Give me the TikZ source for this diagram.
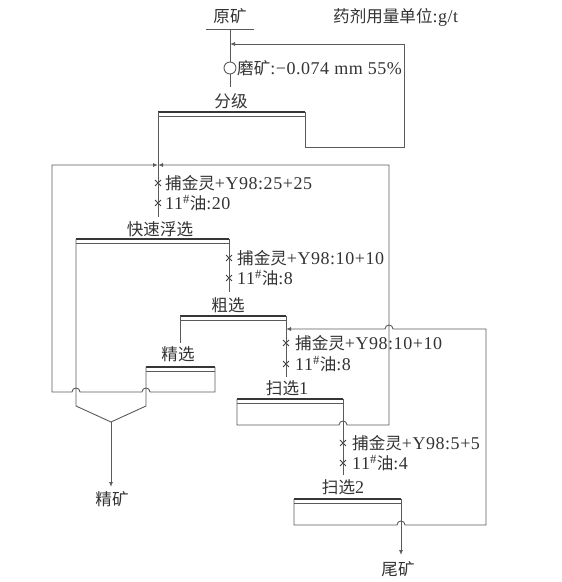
\documentclass[tikz,border=0pt]{standalone}
\usepackage{fontspec}
\setmainfont{Liberation Serif}[LetterSpace=3]
\newfontfamily\cjk{Noto Sans CJK SC}[Scale=0.92]
\usetikzlibrary{arrows.meta,shapes.misc}
\definecolor{ln}{HTML}{5A5A5A}
\definecolor{tx}{HTML}{333333}
\begin{document}
\begin{tikzpicture}[x=1pt,y=-1pt,
  line/.style={draw=ln,line width=0.9pt},
  hdr/.style={draw=ln!60!black,line width=2pt},
  thinl/.style={draw=ln,line width=0.7pt},
  arr/.style={-{Latex[length=5pt,width=4pt]}},
  lbl/.style={font=\fontsize{18}{20}\selectfont, text=tx, inner sep=0pt},
  rg/.style={lbl, anchor=west},
  xmark/.style={cross out, draw=ln!70!black, line width=0.9pt, minimum size=5pt, inner sep=0pt},
]
\useasboundingbox (0,0) rectangle (562,582);

% ---------- labels ----------
\node[lbl] (yk) at (230,16) {\cjk 原矿};
\node[lbl,anchor=west] (unit) at (333,17) {{\cjk 药剂用量单位}:g/t};
\node[lbl,anchor=west] (mo) at (237,68) {{\cjk 磨矿}:−0.074 mm 55\%};
\node[lbl] (fj) at (231,101) {\cjk 分级};
\node[lbl] (ks) at (160,229) {\cjk 快速浮选};
\node[lbl] (cx) at (228,305) {\cjk 粗选};
\node[lbl] (jx) at (178,354) {\cjk 精选};
\node[lbl] (sx1) at (287,388) {{\cjk 扫选}1};
\node[lbl] (sx2) at (343,487) {{\cjk 扫选}2};
\node[lbl] (jk) at (112,499) {\cjk 精矿};
\node[lbl] (wk) at (398,569) {\cjk 尾矿};

% ---------- reagent marks and texts ----------
\node[xmark] (m1) at (158,183) {};
\node[xmark] (m2) at (158,203) {};
\node[xmark] (m3) at (229,258) {};
\node[xmark] (m4) at (229,278) {};
\node[xmark] (m5) at (286,343) {};
\node[xmark] (m6) at (286,364) {};
\node[xmark] (m7) at (343,443) {};
\node[xmark] (m8) at (343,463) {};
\node[rg] (r1) at (165,183) {{\cjk 捕金灵}+Y98:25+25};
\node[rg] (r2) at (165,203) {11\textsuperscript{\#}{\cjk 油}:20};
\node[rg] (r3) at (237,258) {{\cjk 捕金灵}+Y98:10+10};
\node[rg] (r4) at (237,278) {11\textsuperscript{\#}{\cjk 油}:8};
\node[rg] (r5) at (295,343) {{\cjk 捕金灵}+Y98:10+10};
\node[rg] (r6) at (295,364) {11\textsuperscript{\#}{\cjk 油}:8};
\node[rg] (r7) at (352,443) {{\cjk 捕金灵}+Y98:5+5};
\node[rg] (r8) at (352,463) {11\textsuperscript{\#}{\cjk 油}:4};

% ---------- top: ore, grinding ----------
\coordinate (u1) at (206,29); \coordinate (u2) at (254,29);
\coordinate (u0) at (230,29);
\draw[line] (u1) -- (u2);
\node[draw=ln, circle, minimum size=12pt, inner sep=0pt, line width=0.9pt] (mill) at (230,68) {};
\draw[line] (u0) -- (mill.north);
\coordinate (mb) at (230,87);
\draw[line] (mill.south) -- (mb);

% classifier box
\coordinate (fjL) at (158,112); \coordinate (fjR) at (305,112);
\draw[hdr] (fjL) -- (fjR);
\draw[thinl] (158,116.5) -- (305,116.5);
\coordinate (ret) at (230,44);
\draw[line,arr] (fjR) -- (305,147) -- (404,147) -- (404,44) -- (ret);

% feed line
\coordinate (feed) at (158,165);
\draw[line] (fjL) -- (158,217);

% ---------- quick flotation ----------
\coordinate (ksL) at (76,239); \coordinate (ksR) at (229,239);
\draw[hdr] (ksL) -- (ksR);
\draw[thinl] (76,243.5) -- (229,243.5);
\draw[line] (ksR) -- (229,292);
\coordinate (fun) at (111,422);
\draw[line] (ksL) -- (76,406) -- (fun);

% ---------- rougher ----------
\coordinate (cxL) at (180,316); \coordinate (cxR) at (286,316);
\draw[hdr] (cxL) -- (cxR);
\draw[thinl] (180,320.5) -- (286,320.5);
\draw[line] (cxL) -- (180,343);
\draw[line] (cxR) -- (286,377);

% ---------- cleaner ----------
\coordinate (jxL) at (146,367); \coordinate (jxR) at (215,367);
\draw[hdr] (jxL) -- (jxR);
\draw[thinl] (146,371.5) -- (215,371.5);
\draw[line] (jxL) -- (146,406) -- (fun);
\draw[line,arr] (fun) -- (111,487);
% cleaner tail back to feed
\draw[line,arr] (jxR) -- (215,392) -- (150,392)
   .. controls (150,386.7) and (142,386.7) .. (142,392) -- (80,392)
   .. controls (80,386.7) and (72,386.7) .. (72,392) -- (52,392) -- (52,165) -- (feed);

% ---------- scavenger 1 ----------
\coordinate (s1L) at (237,399); \coordinate (s1R) at (343,399);
\draw[hdr] (s1L) -- (s1R);
\draw[thinl] (237,403.5) -- (343,403.5);
\draw[line] (s1R) -- (343,475);
\draw[line,arr] (s1L) -- (237,425) -- (339,425)
   .. controls (339,419.7) and (347,419.7) .. (347,425) -- (389,425) -- (389,165) -- (feed);

% ---------- scavenger 2 ----------
\coordinate (s2L) at (294,499); \coordinate (s2R) at (401,499);
\draw[hdr] (s2L) -- (s2R);
\draw[thinl] (294,503.5) -- (401,503.5);
\coordinate (tail) at (401,555);
\draw[line,arr] (s2R) -- (tail);
\coordinate (ret2) at (286,329);
\draw[line,arr] (s2L) -- (294,525) -- (397,525)
   .. controls (397,519.7) and (405,519.7) .. (405,525) -- (486,525) -- (486,329) -- (393,329)
   .. controls (393,323.7) and (385,323.7) .. (385,329) -- (ret2);
\end{tikzpicture}
\end{document}
